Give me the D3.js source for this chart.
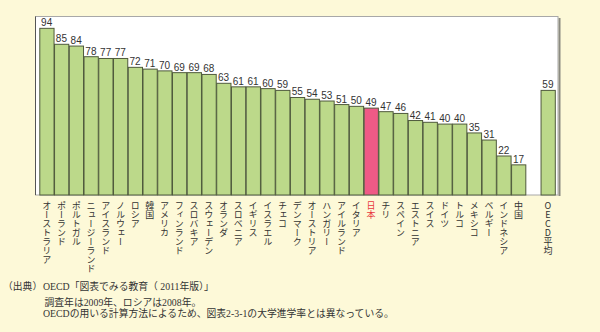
<!DOCTYPE html>
<html><head><meta charset="utf-8">
<script src="https://cdn.jsdelivr.net/npm/d3@7"></script>
<style>
html,body{margin:0;padding:0;background:#fdf9d8;}
svg{display:block;}
</style></head>
<body>
<svg id="chart" width="600" height="332"></svg>
<script>
const countries = ["オーストラリア","ポーランド","ポルトガル","ニュージーランド","アイスランド","ノルウェー","ロシア","韓国","アメリカ","フィンランド","スロバキア","スウェーデン","オランダ","スロベニア","イギリス","イスラエル","チェコ","デンマーク","オーストリア","ハンガリー","アイルランド","イタリア","日本","チリ","スペイン","エストニア","スイス","ドイツ","トルコ","メキシコ","ベルギー","インドネシア","中国"];
const values = [94,85,84,78,77,77,72,71,70,69,69,68,63,61,61,60,59,55,54,53,51,50,49,47,46,42,41,40,40,35,31,22,17];
const averageLabel = "OECD平均";
const averageValue = 59;
const highlight = "日本";
const notes = [
  "（出典）",
  "OECD「図表でみる教育（ 2011年版）」",
  "調査年は2009年、ロシアは2008年。",
  "OECDの用いる計算方法によるため、図表2-3-1の大学進学率とは異なっている。"
];

const svg = d3.select("#chart");
const data = countries.map((c,i)=>({name:c, value:values[i]}));
data.push({name:"_gap", value:null});
data.push({name:averageLabel, value:averageValue});

const x = d3.scaleBand().domain(data.map(d=>d.name)).range([39.3,555.3]).paddingInner(0).paddingOuter(0);
const y = d3.scaleLinear().domain([0,100]).range([195,17.7]);

// frame with shadow
svg.append("rect").attr("x",558.5).attr("y",18).attr("width",2).attr("height",178).attr("fill","#8a8a80");
svg.append("rect").attr("x",35.5).attr("y",16.5).attr("width",522.5).attr("height",178.5)
  .attr("fill","#ffffff").attr("stroke","#a8a8a8").attr("stroke-width",1);
svg.append("line").attr("x1",35.5).attr("x2",35.5).attr("y1",16.5).attr("y2",195).attr("stroke","#555").attr("stroke-width",1);

const bars = data.filter(d=>d.value!=null);
svg.append("g").selectAll("rect").data(bars).join("rect")
  .attr("x",d=>x(d.name)+0.5)
  .attr("y",d=>y(d.value))
  .attr("width",x.bandwidth()-0.5)
  .attr("height",d=>y(0)-y(d.value))
  .attr("fill",d=>d.name===highlight?"#ef5a86":"#bcd98a")
  .attr("stroke","#4f5a3c").attr("stroke-width",1);

svg.append("g").selectAll("text").data(bars).join("text")
  .attr("x",d=>x(d.name)+x.bandwidth()/2)
  .attr("y",d=>y(d.value)-2)
  .attr("text-anchor","middle")
  .attr("font-family","Liberation Sans, Arial, sans-serif")
  .attr("font-size",10)
  .attr("fill","#333")
  .text(d=>d.value);

svg.append("g").selectAll("text").data(bars).join("text")
  .attr("x",d=>x(d.name)+x.bandwidth()/2)
  .attr("y",201)
  .style("writing-mode","vertical-rl")
  .style("text-orientation","upright")
  .attr("font-family","Noto Sans CJK JP, sans-serif")
  .attr("font-size",9)
  .attr("fill",d=>d.name===highlight?"#e8383d":"#333")
  .text(d=>d.name);

const nf = "Liberation Serif, Noto Sans CJK JP, serif";
const ng = svg.append("g").attr("font-family",nf).attr("font-size",9.8).attr("fill","#333");
ng.append("text").attr("x",3).attr("y",290).text(notes[0]);
ng.append("text").attr("x",43).attr("y",290).text(notes[1]);
ng.append("text").attr("x",44.5).attr("y",305.5).text(notes[2]);
ng.append("text").attr("x",43).attr("y",317).text(notes[3]);
</script>
</body></html>
